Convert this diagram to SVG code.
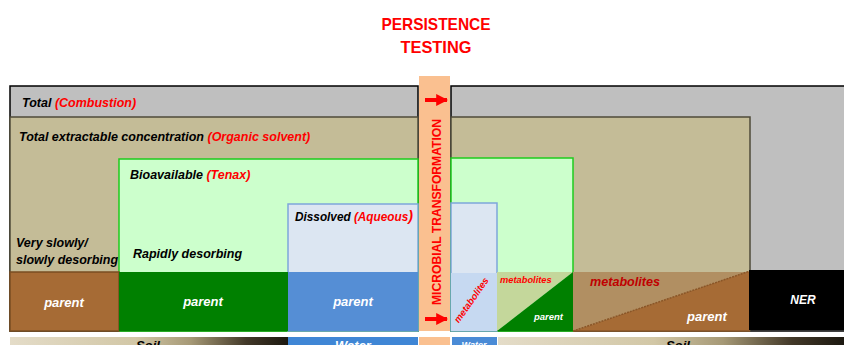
<svg xmlns="http://www.w3.org/2000/svg" width="844" height="345" viewBox="0 0 844 345">
<defs>
<style>
text{font-family:"Liberation Sans",Arial,sans-serif;}
.lb{font-weight:bold;font-style:italic;font-size:12.5px;fill:#000;}
.rd{fill:#FF0000;}
.wh{font-weight:bold;font-style:italic;fill:#fff;}
.gray{fill:#BFBFBF;stroke:#000;stroke-width:1.5;}
.tan{fill:#C4BC97;stroke:#4F4B3A;stroke-width:1.5;}
.grn{fill:#CCFFCC;stroke:#1ECC1E;stroke-width:1.5;}
.dis{fill:#DCE6F2;stroke:#7EA6DA;stroke-width:1.5;}
</style>
<linearGradient id="soil" x1="0" y1="0" x2="1" y2="0">
<stop offset="0" stop-color="#E4DCC8"/>
<stop offset="0.45" stop-color="#D2C7A6"/>
<stop offset="0.65" stop-color="#A69976"/>
<stop offset="0.85" stop-color="#423828"/>
<stop offset="1" stop-color="#1C1810"/>
</linearGradient>
<marker id="ah" viewBox="0 0 10 10" refX="9" refY="5" markerWidth="3" markerHeight="3" orient="auto"><path d="M0,0 L10,5 L0,10 z" fill="#FF0000"/></marker>
</defs>
<rect width="844" height="345" fill="#fff"/>

<g id="title">
<text x="436" y="30" text-anchor="middle" font-weight="bold" font-size="17" fill="#FF0000" textLength="109" lengthAdjust="spacingAndGlyphs">PERSISTENCE</text>
<text x="436" y="53" text-anchor="middle" font-weight="bold" font-size="17" fill="#FF0000" textLength="71" lengthAdjust="spacingAndGlyphs">TESTING</text>
</g>

<g id="total">
<rect class="gray" x="10" y="86" width="408" height="245"/>
<rect class="gray" x="451" y="86" width="400" height="245"/>
<text class="lb" x="22" y="107" font-size="12">Total <tspan class="rd">(Combustion)</tspan></text>
</g>

<g id="extractable">
<rect class="tan" x="10" y="117" width="408" height="214"/>
<rect class="tan" x="451" y="117" width="299" height="214"/>
<text class="lb" x="19" y="141">Total extractable concentration <tspan class="rd">(Organic solvent)</tspan></text>
</g>

<g id="bioavailable">
<rect class="grn" x="119" y="159" width="299" height="172"/>
<rect class="grn" x="451" y="158" width="122" height="173"/>
<text class="lb" x="130" y="179">Bioavailable <tspan class="rd">(Tenax)</tspan></text>
</g>

<g id="dissolved">
<rect class="dis" x="288" y="204" width="130" height="127"/>
<rect class="dis" x="451" y="203" width="46" height="128"/>
<text class="lb" x="295" y="221" textLength="118" lengthAdjust="spacingAndGlyphs">Dissolved <tspan class="rd">(Aqueous<tspan font-size="15">)</tspan></tspan></text>
</g>

<g id="slow-desorbing">
<text class="lb" x="16" y="247">Very slowly/</text>
<text class="lb" x="16" y="264">slowly desorbing</text>
</g>

<g id="rapid-desorbing">
<text class="lb" x="133" y="258">Rapidly desorbing</text>
</g>

<g id="parent-slow">
<rect x="10" y="272" width="109" height="59" fill="#A66B35" stroke="#7A4E22" stroke-width="1.5"/>
<text class="wh" x="64" y="307" font-size="13" text-anchor="middle">parent</text>
</g>

<g id="parent-rapid">
<rect x="119" y="272" width="169" height="59" fill="#008000"/>
<text class="wh" x="203" y="306" font-size="13" text-anchor="middle">parent</text>
</g>

<g id="parent-dissolved">
<rect x="288" y="272" width="130" height="59" fill="#558ED5"/>
<text class="wh" x="353" y="306" font-size="13" text-anchor="middle">parent</text>
</g>

<g id="metabolites-dissolved">
<rect x="451" y="273" width="46" height="58" fill="#C6D9F1"/>
<text x="0" y="0" transform="translate(474,302) rotate(-55)" text-anchor="middle" font-size="9.5" font-weight="bold" font-style="italic" fill="#FF0000">metabolites</text>
</g>

<g id="rapid-transformed">
<polygon points="497,272 573,272 497,331" fill="#C4D79B"/>
<polygon points="497,331 573,272 573,331" fill="#008000"/>
<text x="500" y="283" font-size="9.3" font-weight="bold" font-style="italic" fill="#FF0000">metabolites</text>
<text class="wh" x="534" y="320" font-size="9.5">parent</text>
</g>

<g id="slow-transformed">
<polygon points="573,272 750,272 573,331" fill="#B18F62"/>
<polygon points="573,331 750,271 750,331" fill="#A66B35"/>
<line x1="573" y1="331" x2="750" y2="271" stroke="#8A5628" stroke-width="1.5" stroke-dasharray="2,1"/>
<line x1="573" y1="331" x2="750" y2="331" stroke="#8A5628" stroke-width="1.5"/>
<text x="590" y="286" font-size="13" font-weight="bold" font-style="italic" fill="#C00000" textLength="70" lengthAdjust="spacingAndGlyphs">metabolites</text>
<text class="wh" x="687" y="321" font-size="13">parent</text>
</g>

<g id="ner">
<rect x="749" y="270" width="95" height="60" fill="#000"/>
<text class="wh" x="803" y="304" font-size="12" text-anchor="middle">NER</text>
</g>

<g id="microbial-transformation">
<rect x="419" y="76" width="31" height="255" fill="#FAC090"/>
<text transform="translate(441,212) rotate(-90)" x="0" y="0" text-anchor="middle" font-size="13" font-weight="bold" fill="#FF0000" textLength="186" lengthAdjust="spacingAndGlyphs">MICROBIAL TRANSFORMATION</text>
</g>

<g id="connectors">
<line x1="425" y1="100" x2="447" y2="100" stroke="#FF0000" stroke-width="4" marker-end="url(#ah)"/>
<line x1="425" y1="319" x2="447" y2="319" stroke="#FF0000" stroke-width="4" marker-end="url(#ah)"/>
</g>

<g id="media-strip">
<rect x="10" y="337" width="278" height="10" fill="url(#soil)"/>
<rect x="288" y="337" width="130" height="10" fill="#3F86D5"/>
<rect x="419" y="337" width="31" height="10" fill="#FAC090"/>
<rect x="452" y="337" width="45" height="10" fill="#4A8BD6"/>
<rect x="498" y="337" width="346" height="10" fill="url(#soil)"/>
<text x="148" y="350" text-anchor="middle" font-size="13" font-weight="bold" font-style="italic" fill="#000">Soil</text>
<text x="353" y="350" text-anchor="middle" font-size="13" font-weight="bold" font-style="italic" fill="#fff">Water</text>
<text x="474" y="348" text-anchor="middle" font-size="9" font-weight="bold" font-style="italic" fill="#fff">Water</text>
<text x="678" y="350" text-anchor="middle" font-size="13" font-weight="bold" font-style="italic" fill="#000">Soil</text>
</g>
</svg>
